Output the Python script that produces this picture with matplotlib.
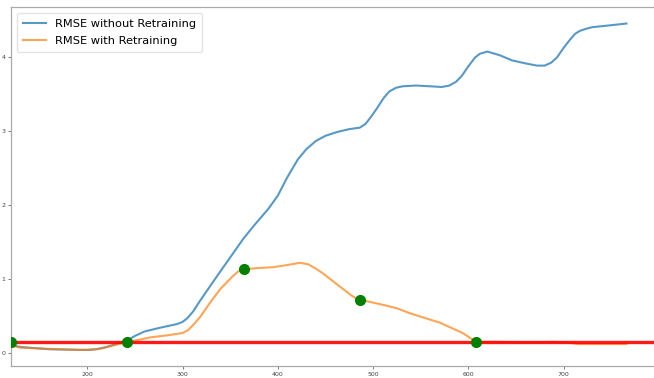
import matplotlib
matplotlib.use('Agg')
import matplotlib.pyplot as plt
import numpy as np

# RMSE of the model over time, with and without periodic retraining
x_base = [120, 123, 130, 140, 160, 180, 200, 210, 220, 230, 242, 250, 260, 276,
          294, 300, 305, 311, 318, 326, 340, 352, 364, 376, 390, 400, 410, 421,
          430, 440, 450, 462, 475, 486, 492, 498, 504, 511, 517, 524, 531, 545,
          560, 572, 580, 587, 593, 600, 607, 612, 620, 633, 646, 660, 672, 680,
          687, 693, 700, 706, 712, 717, 724, 730, 745, 766]
rmse_base = [0.15, 0.10, 0.08, 0.07, 0.05, 0.045, 0.04, 0.05, 0.08, 0.12, 0.17,
             0.23, 0.29, 0.34, 0.39, 0.42, 0.47, 0.56, 0.70, 0.85, 1.11, 1.33,
             1.55, 1.74, 1.95, 2.13, 2.38, 2.62, 2.76, 2.87, 2.94, 2.99, 3.03,
             3.05, 3.10, 3.20, 3.31, 3.45, 3.54, 3.59, 3.61, 3.62, 3.61, 3.60,
             3.62, 3.67, 3.75, 3.88, 4.00, 4.05, 4.08, 4.03, 3.96, 3.92, 3.89,
             3.89, 3.93, 4.00, 4.13, 4.23, 4.32, 4.36, 4.39, 4.41, 4.43, 4.46]

x_retrain = [120, 123, 130, 150, 170, 190, 205, 215, 227, 242, 255, 266, 285,
             300, 306, 312, 318, 330, 340, 352, 358, 364, 372, 380, 395, 410,
             423, 432, 440, 447, 457, 468, 477, 482, 486, 497, 514, 526, 538,
             555, 570, 582, 594, 608, 630, 660, 690, 705, 715, 740, 766]
rmse_retrain = [0.15, 0.09, 0.07, 0.06, 0.05, 0.04, 0.045, 0.06, 0.10, 0.15,
                0.18, 0.21, 0.24, 0.27, 0.31, 0.39, 0.48, 0.70, 0.87, 1.03,
                1.10, 1.13, 1.14, 1.15, 1.16, 1.19, 1.22, 1.20, 1.14, 1.08,
                0.98, 0.87, 0.78, 0.74, 0.72, 0.69, 0.64, 0.60, 0.54, 0.47,
                0.41, 0.34, 0.27, 0.15, 0.15, 0.14, 0.15, 0.14, 0.12, 0.12,
                0.12]

# points where the model got retrained
retrain_at = [120, 242, 364, 486, 608]
threshold = 0.15

fig, ax = plt.subplots(figsize=(6.54, 3.78), dpi=100)
fig.subplots_adjust(left=0.017, right=1.005, bottom=0.031, top=0.981)

ax.plot(x_base, rmse_base, color='#1f77b4', linewidth=1.5, alpha=0.75,
        label='RMSE without Retraining')
ax.plot(x_retrain, rmse_retrain, color='#ff7f0e', linewidth=1.5, alpha=0.7,
        label='RMSE with Retraining')
ax.axhline(threshold, color='red', linewidth=2.4, alpha=0.9)

mask = np.isin(x_retrain, retrain_at)
ax.plot(np.array(x_retrain)[mask], np.array(rmse_retrain)[mask], 'o',
        color='green', markersize=7, zorder=5)

ax.set_xlim(left=120)
ax.set_xticks([200, 300, 400, 500, 600, 700])
ax.set_yticks([0, 1, 2, 3, 4])
ax.tick_params(labelsize=4.5, length=2, width=0.6, pad=2, colors='#666666',
               labelcolor='#444444')
for side in ax.spines.values():
    side.set_color('#aaaaaa')
    side.set_linewidth(0.9)

ax.legend(loc='upper left', fontsize=8.2, frameon=True, edgecolor='#dddddd',
          borderaxespad=0.5, borderpad=0.55, labelspacing=0.6)

fig.savefig('out.png', dpi=100)
